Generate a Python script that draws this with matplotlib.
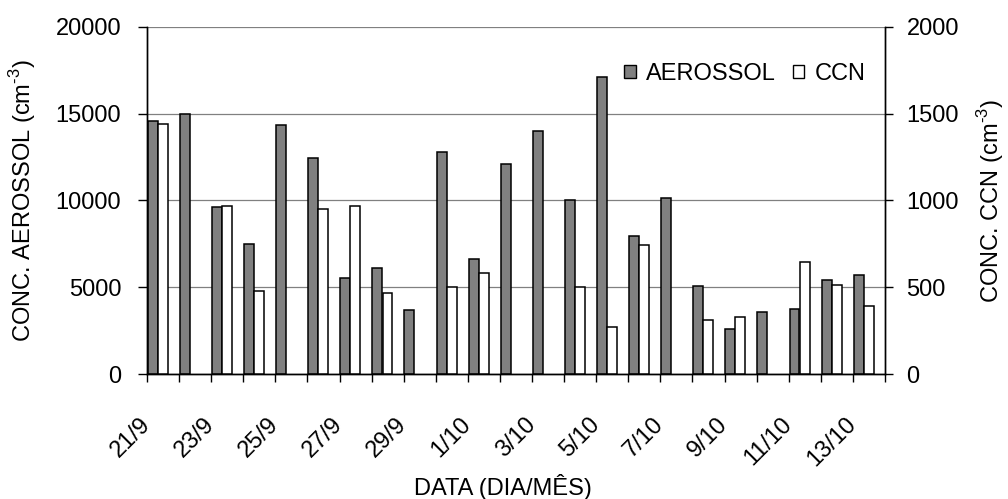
import numpy as np
import matplotlib
matplotlib.use("Agg")
import matplotlib.pyplot as plt
from matplotlib.patches import Patch

plt.rcParams['font.family'] = ['Liberation Sans', 'DejaVu Sans']
plt.rcParams['font.size'] = 17
plt.rcParams['mathtext.fontset'] = 'custom'
plt.rcParams['mathtext.rm'] = 'Liberation Sans'

# daily values, 21/9 through 13/10
dates = ['21/9', '22/9', '23/9', '24/9', '25/9', '26/9', '27/9', '28/9', '29/9', '30/9',
         '1/10', '2/10', '3/10', '4/10', '5/10', '6/10', '7/10', '8/10', '9/10', '10/10',
         '11/10', '12/10', '13/10']
aerossol = [14600, 14980, 9650, 7500, 14350, 12450, 5550, 6100, 3700, 12800,
            6650, 12100, 14000, 10000, 17100, 7950, 10150, 5100, 2580, 3600,
            3770, 5450, 5710]
ccn = [1440, np.nan, 970, 480, np.nan, 950, 970, 465, np.nan, 500,
       580, np.nan, np.nan, 500, 270, 745, np.nan, 310, 330, np.nan,
       645, 515, 395]

x = np.arange(len(dates))
ccn = np.array(ccn, dtype=float)
has_ccn = ~np.isnan(ccn)

fig = plt.figure(figsize=(10.08, 4.99), dpi=100)
ax = fig.add_axes([147 / 1008, 1 - 374.3 / 499, 738 / 1008, 347.6 / 499])
ax2 = ax.twinx()

grey = '#808080'
bw = 0.31

ax.bar(x - 0.32, aerossol, width=bw, color=grey, edgecolor='black', linewidth=1.1, zorder=3)
ax2.bar(x[has_ccn] - 0.005, ccn[has_ccn], width=bw, color='white', edgecolor='black',
        linewidth=1.1, zorder=3)

ax.set_xlim(-0.5, len(dates) - 0.5)
ax.set_ylim(0, 20000)
ax2.set_ylim(0, 2000)
ax.set_yticks(np.arange(0, 20001, 5000))
ax2.set_yticks(np.arange(0, 2001, 500))

# horizontal grid
ax.yaxis.grid(True, color=grey, linewidth=0.9)
ax.set_axisbelow(True)

for a in (ax, ax2):
    a.spines['top'].set_visible(False)
    for s in ('left', 'right', 'bottom'):
        a.spines[s].set_linewidth(1.0)

ax.tick_params(axis='y', direction='out', length=6.5, width=1.0, pad=12)
ax2.tick_params(axis='y', direction='out', length=5.5, width=1.0, pad=10)

# category boundaries as minor ticks, labels every two days
ax.set_xticks(np.arange(-0.5, len(dates)), minor=True)
ax.set_xticks(x[::2] - 0.26)
ax.set_xticklabels(dates[::2], rotation=45, ha='right', va='top')
ax.tick_params(axis='x', which='major', length=0, pad=28)
ax.tick_params(axis='x', which='minor', direction='out', length=6, width=1.0)

fig.text(22.5 / 1008, 1 - 201 / 499, r'CONC. AEROSSOL (cm$^{\text{-3}}$)', rotation=90,
         ha='center', va='center')
fig.text(991 / 1008, 1 - 201 / 499, r'CONC. CCN (cm$^{\text{-3}}$)', rotation=90,
         ha='center', va='center')
fig.text(503 / 1008, 1 - 487 / 499, 'DATA (DIA/MÊS)', ha='center', va='center')

handles = [Patch(facecolor=grey, edgecolor='black', linewidth=1.0, label='AEROSSOL'),
           Patch(facecolor='white', edgecolor='black', linewidth=1.0, label='CCN')]
ax2.legend(handles=handles, ncol=2, frameon=False, loc='center right',
           bbox_to_anchor=(866 / 1008, 1 - 74 / 499), bbox_transform=fig.transFigure,
           borderpad=0, borderaxespad=0, handlelength=0.5, handleheight=0.5,
           handletextpad=0.45, columnspacing=0.7)

fig.savefig('out.png', dpi=100)
